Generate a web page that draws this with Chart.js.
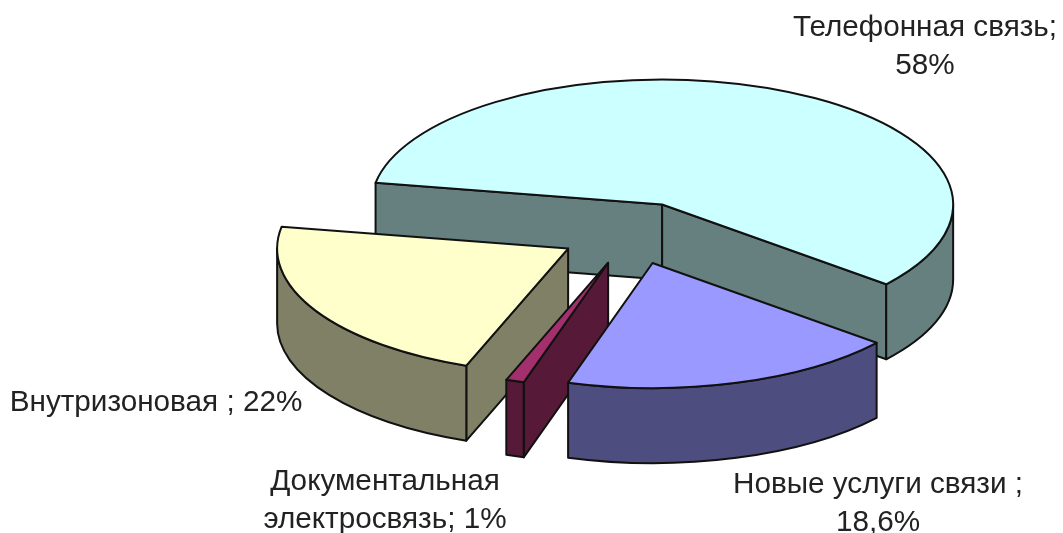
<!DOCTYPE html>
<html>
<head>
<meta charset="utf-8">
<style>
  html, body { margin: 0; padding: 0; background: #fff; overflow: hidden; }
  #wrap { width: 1063px; height: 533px; }
</style>
<script src="https://cdn.jsdelivr.net/npm/chart.js@4"></script>
</head>
<body>
<div id="wrap"><canvas id="pie" width="1063" height="533"></canvas></div>
<script>
// Data
const categories = ['Телефонная связь', 'Новые услуги связи', 'Документальная электросвязь', 'Внутризоновая'];
const shares = [58, 18.6, 1, 22];
const labelLines = [
    ['Телефонная связь;', '58%'],
    ['Новые услуги связи ;', '18,6%'],
    ['Документальная', 'электросвязь; 1%'],
    ['Внутризоновая ; 22%']
];

// Colours, same order as the data
const topColors = ['#ccffff', '#9999ff', '#a32f6c', '#ffffcc'];
const wallColors = ['#668080', '#4d4d80', '#561a38', '#808066'];

// Look of the tilted pie, in page pixels
const pieCenter = { x: 631.5, y: 233 };
const radiusX = 291;
const radiusY = 125;
const depth = 75;
const explode = 73 / 291; // share of the radius
const paintOrder = [0, 3, 2, 1];
const labelPos = [
    { x: 925, y: 36 },
    { x: 878, y: 493 },
    { x: 385, y: 490 },
    { x: 156, y: 411 }
];
const labelLineHeight = 38;

// Draws the arcs through a squashing transform and adds the side walls
const tiltedPie = {
    id: 'tiltedPie',
    beforeDatasetDraw(chart, args) {
        const ctx = chart.ctx;
        const arcs = args.meta.data;

        paintOrder.forEach(i => {
            const arc = arcs[i];
            const { x, y, startAngle: a0, endAngle: a1, outerRadius: R } = arc.getProps(['x', 'y', 'startAngle', 'endAngle', 'outerRadius'], true);
            const sx = radiusX / R;
            const sy = radiusY / R;
            const mid = (a0 + a1) / 2;
            const ex = Math.cos(mid) * explode * R;
            const ey = Math.sin(mid) * explode * R;
            const d = depth / sy;

            const place = () => {
                ctx.translate(pieCenter.x, pieCenter.y);
                ctx.scale(sx, sy);
                ctx.translate(ex - x, ey - y);
            };
            // fill under the transform, stroke without it so lines stay even
            const outline = () => {
                ctx.lineWidth = 2;
                ctx.lineJoin = 'round';
                ctx.strokeStyle = '#111';
                ctx.stroke();
            };
            const shape = (build, fill) => {
                ctx.save();
                place();
                ctx.beginPath();
                build();
                ctx.restore();
                ctx.fillStyle = fill;
                ctx.fill();
                outline();
            };
            const radial = a => () => {
                ctx.moveTo(x, y);
                ctx.lineTo(x + R * Math.cos(a), y + R * Math.sin(a));
                ctx.lineTo(x + R * Math.cos(a), y + R * Math.sin(a) + d);
                ctx.lineTo(x, y + d);
                ctx.closePath();
            };

            // radial faces turned towards the viewer
            if (Math.cos(a0) < 0) shape(radial(a0), wallColors[i]);
            if (Math.cos(a1) > 0) shape(radial(a1), wallColors[i]);

            // outer wall, front half of the rim only
            const from = Math.max(a0, 0);
            const to = Math.min(a1, Math.PI);
            if (to > from) {
                shape(() => {
                    ctx.arc(x, y, R, from, to);
                    ctx.arc(x, y + d, R, to, from, true);
                    ctx.closePath();
                }, wallColors[i]);
            }

            // top face comes from the library element
            ctx.save();
            place();
            arc.draw(ctx);
            ctx.beginPath();
            ctx.moveTo(x, y);
            ctx.arc(x, y, R, a0, a1);
            ctx.closePath();
            ctx.restore();
            outline();
        });
        return false;
    },
    afterDraw(chart) {
        const ctx = chart.ctx;
        ctx.save();
        ctx.font = '29.7px "Liberation Sans"';
        ctx.fillStyle = '#222';
        ctx.textAlign = 'center';
        ctx.textBaseline = 'alphabetic';
        labelLines.forEach((lines, i) => {
            lines.forEach((line, k) => {
                ctx.fillText(line, labelPos[i].x, labelPos[i].y + k * labelLineHeight);
            });
        });
        ctx.restore();
    }
};

new Chart(document.getElementById('pie').getContext('2d'), {
    type: 'pie',
    data: {
        labels: categories,
        datasets: [{
            data: shares,
            backgroundColor: topColors,
            borderWidth: 0
        }]
    },
    options: {
        responsive: false,
        animation: false,
        rotation: -80,
        plugins: {
            legend: { display: false },
            tooltip: { enabled: false }
        }
    },
    plugins: [tiltedPie]
});
</script>
</body>
</html>
